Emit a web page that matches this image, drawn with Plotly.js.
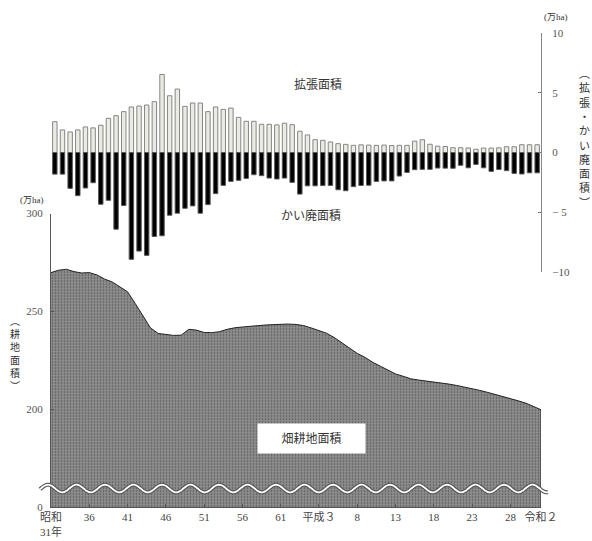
<!DOCTYPE html>
<html>
<head>
<meta charset="utf-8">
<script src="https://cdn.plot.ly/plotly-3.0.1.min.js"></script>
<style>html,body{margin:0;padding:0;background:#fff;}#chart{width:592px;height:541px;}</style>
</head>
<body>
<div id="chart"></div>
<script>
// ---- data ----
const areaYears = [1956,1957,1958,1959,1960,1961,1962,1963,1964,1965,1966,1967,1968,1969,1970,1971,1972,1973,1974,1975,1976,1977,1978,1979,1980,1981,1982,1983,1984,1985,1986,1987,1988,1989,1990,1991,1992,1993,1994,1995,1996,1997,1998,1999,2000,2001,2002,2003,2004,2005,2006,2007,2008,2009,2010,2011,2012,2013,2014,2015,2016,2017,2018,2019,2020];
const uplandArea = [269.8,271.0,271.5,270.3,269.6,269.8,268.6,266.5,265.0,262.5,260.0,254.0,247.6,241.5,238.7,238.3,237.7,237.8,240.8,240.4,239.2,239.1,239.6,240.8,241.6,242.0,242.4,242.8,243.0,243.2,243.4,243.5,243.3,242.7,241.5,240.0,238.8,236.6,234.0,231.0,228.5,226.5,224.0,222.0,220.0,218.0,216.8,215.5,214.9,214.4,214.1,213.5,212.8,212.1,211.3,210.6,209.6,208.6,207.6,206.6,205.5,204.3,203.1,201.5,199.7];
const barYears = [1957,1958,1959,1960,1961,1962,1963,1964,1965,1966,1967,1968,1969,1970,1971,1972,1973,1974,1975,1976,1977,1978,1979,1980,1981,1982,1983,1984,1985,1986,1987,1988,1989,1990,1991,1992,1993,1994,1995,1996,1997,1998,1999,2000,2001,2002,2003,2004,2005,2006,2007,2008,2009,2010,2011,2012,2013,2014,2015,2016,2017,2018,2019,2020];
const expansion = [2.58,1.89,1.72,1.89,2.14,2.06,2.28,2.86,3.08,3.42,3.81,3.89,3.97,4.25,6.53,4.75,5.31,3.86,4.14,4.14,3.42,3.81,3.61,3.72,2.94,2.61,2.61,2.36,2.36,2.31,2.45,2.33,1.78,1.47,1.07,1.02,0.88,0.74,0.68,0.60,0.64,0.62,0.60,0.62,0.58,0.60,0.60,0.95,1.07,0.69,0.53,0.50,0.40,0.40,0.38,0.27,0.37,0.37,0.39,0.48,0.48,0.65,0.65,0.65];
const abandonment = [-1.81,-1.81,-3.00,-3.61,-2.97,-2.53,-4.33,-4.00,-6.42,-4.44,-8.94,-8.25,-8.61,-7.03,-6.97,-5.25,-5.08,-4.67,-4.47,-5.08,-4.36,-3.44,-2.75,-2.42,-2.33,-2.17,-1.86,-1.94,-2.14,-2.22,-2.14,-2.50,-3.48,-2.79,-2.79,-2.77,-2.76,-3.12,-3.20,-2.86,-2.76,-2.74,-2.42,-2.38,-2.38,-1.97,-1.67,-1.44,-1.41,-1.41,-1.30,-1.31,-1.32,-1.07,-1.28,-1.00,-1.28,-1.58,-1.42,-1.52,-1.75,-1.80,-1.70,-1.70];
const xTickVals = [1956,1961,1966,1971,1976,1981,1986,1991,1996,2001,2006,2011,2016,2020];
const xTickText = ['昭和<br>31年','36','41','46','51','56','61','平成３','8','13','18','23','28','令和２'];
const leftTickVals = [150,200,250,300];
const leftTickText = ['0','200','250','300'];
const rightTickVals = [-10,-5,0,5,10];
const rightTickText = ['−10','− 5','0','5','10'];

// ---- geometry helpers (pixel -> paper) ----
const W = 592, H = 541, ML = 51, MR = 51, MT = 33, MB = 34;
const PW = W - ML - MR, PH = H - MT - MB;
const px = x => (x - ML) / PW;
const py = y => (H - MB - y) / PH;

const FONT = '"Liberation Serif", "Noto Sans CJK JP", serif';
const TXT = '#333';

const traces = [
  {
    type: 'scatter', x: areaYears, y: uplandArea, xaxis: 'x', yaxis: 'y',
    mode: 'lines', fill: 'tozeroy', line: {color: '#222', width: 1},
    fillcolor: '#7a7a7a',
    fillpattern: {shape: '.', bgcolor: '#8e8e8e', fgcolor: '#555555', size: 3, solidity: 0.25},
    hoverinfo: 'skip', showlegend: false
  },
  {
    type: 'bar', x: barYears, y: expansion, xaxis: 'x2', yaxis: 'y2', width: 0.58,
    marker: {color: '#ebebe3', line: {color: '#858585', width: 1}}, showlegend: false
  },
  {
    type: 'bar', x: barYears, y: abandonment, xaxis: 'x2', yaxis: 'y2', width: 0.58,
    marker: {color: '#000000', line: {color: '#5a5a5a', width: 1}}, showlegend: false
  }
];

// wavy break decoration
function wavePath() {
  let d = '';
  const yc = 488.5, amp = 3.8, period = 28.5, x0 = 40, x1 = 548;
  for (let x = x0; x <= x1; x += 1) {
    const y = yc - amp * Math.cos((x - 48) / period * 2 * Math.PI);
    d += (x === x0 ? 'M' : 'L') + px(x).toFixed(5) + ',' + py(y).toFixed(5) + ' ';
  }
  return d;
}
const wp = wavePath();
const lastX = areaYears[areaYears.length - 1];
const lastY = uplandArea[uplandArea.length - 1];

const shapes = [
  {type: 'line', xref: 'x', yref: 'y', x0: lastX, x1: lastX, y0: 150, y1: lastY, line: {color: '#222', width: 1}},
  {type: 'path', xref: 'paper', yref: 'paper', path: wp, line: {color: '#555', width: 4}},
  {type: 'path', xref: 'paper', yref: 'paper', path: wp, line: {color: '#ffffff', width: 1.8}}
];

const annotations = [
  {text: '拡張面積', x: px(318), y: py(84), font: {size: 12}},
  {text: 'かい廃面積', x: px(311), y: py(215), font: {size: 12}},
  {text: '畑耕地面積', x: px(311), y: py(438.5), font: {size: 12}, bgcolor: '#ffffff', width: 105, height: 27, borderpad: 1},
  {text: '(万ha)', x: px(32), y: py(200), font: {size: 9}},
  {text: '(万ha)', x: px(556), y: py(17), font: {size: 9}},
  {text: '︵<br>耕<br>地<br>面<br>積<br>︶', x: px(15), y: py(354), font: {size: 10}},
  {text: '︵<br>拡<br>張<br>・<br>か<br>い<br>廃<br>面<br>積<br>︶', x: px(584), y: py(138), font: {size: 11}}
].map(a => Object.assign({xref: 'paper', yref: 'paper', showarrow: false, xanchor: 'center', yanchor: 'middle'}, a, {font: Object.assign({family: FONT, color: TXT}, a.font)}));

const layout = {
  width: W, height: H,
  margin: {l: ML, r: MR, t: MT, b: MB, pad: 0},
  paper_bgcolor: '#ffffff', plot_bgcolor: 'rgba(0,0,0,0)',
  font: {family: FONT, color: TXT, size: 11},
  showlegend: false, barmode: 'overlay', bargap: 0,
  xaxis: {
    domain: [0, 1], anchor: 'y', range: [1956, 2020],
    tickvals: xTickVals, ticktext: xTickText, ticks: 'inside', ticklen: 3, tickcolor: '#555',
    showline: true, linecolor: '#555', linewidth: 1, showgrid: false, zeroline: false,
    tickfont: {size: 11, color: '#444'}, tickangle: 0
  },
  yaxis: {
    domain: [0, py(213.5)], anchor: 'x', range: [150, 300],
    tickvals: leftTickVals, ticktext: leftTickText, ticks: 'inside', ticklen: 3, tickcolor: '#555',
    showline: true, linecolor: '#555', linewidth: 1, showgrid: false, zeroline: false,
    tickfont: {size: 11, color: '#555'}, ticklabelstandoff: 5
  },
  xaxis2: {domain: [0, 1], anchor: 'y2', range: [1956.5, 2020.5], visible: false, showgrid: false, zeroline: false},
  yaxis2: {
    domain: [py(272), 1], anchor: 'x2', side: 'right', range: [-10, 10],
    tickvals: rightTickVals, ticktext: rightTickText, ticks: 'inside', ticklen: 3, tickcolor: '#777',
    showline: true, linecolor: '#888', linewidth: 1, showgrid: false, zeroline: false,
    tickfont: {size: 11, color: '#555'}, ticklabelstandoff: 8
  },
  shapes: shapes,
  annotations: annotations
};

Plotly.newPlot('chart', traces, layout, {staticPlot: true, displayModeBar: false});
</script>
</body>
</html>
